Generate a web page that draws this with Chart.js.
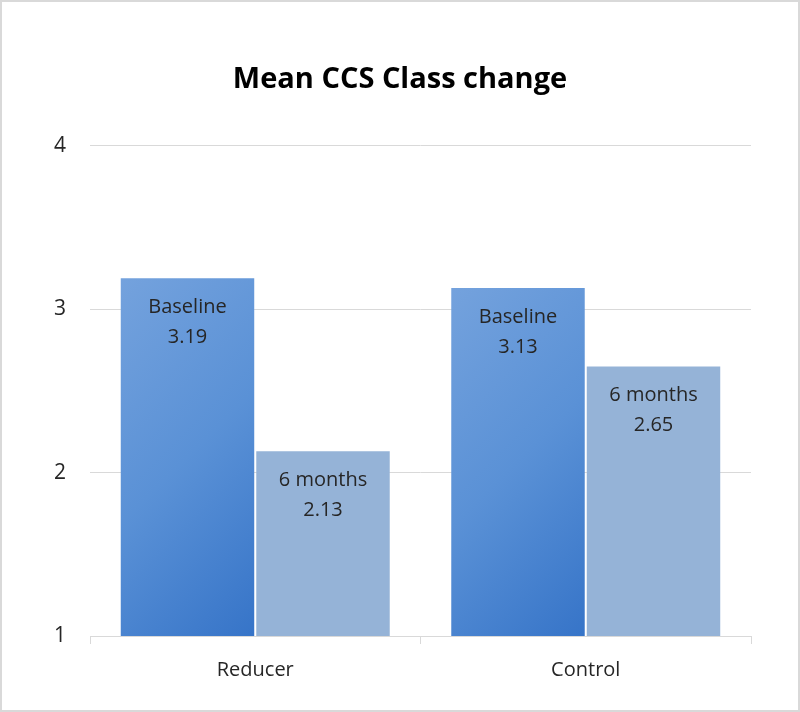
<!DOCTYPE html>
<html>
<head>
<meta charset="utf-8">
<script src="https://cdn.jsdelivr.net/npm/chart.js@4/dist/chart.umd.min.js"></script>
<style>
  html, body { margin: 0; padding: 0; background: #fff; }
  #wrap { width: 800px; height: 712px; }
</style>
</head>
<body>
<div id="wrap"><canvas id="myChart" width="800" height="712"></canvas></div>
<script>
const categories = ["Reducer", "Control"];
const seriesNames = ["Baseline", "6 months"];
const baselineValues = [3.19, 3.13];
const sixMonthValues = [2.13, 2.65];
const yTicks = [1, 2, 3, 4];

const FONT = "'Open Sans', 'Noto Sans', sans-serif";
const CAT_PCT = 0.82;
const BAR_PCT = 0.985;

// Excel-like 45 degree gradient, built per bar from the scales
function baselineFill(context) {
  const chart = context.chart;
  const xs = chart.scales.x, ys = chart.scales.y;
  if (!chart.chartArea || !xs || !ys || context.type !== 'data') return '#5a8fd4';
  const i = context.dataIndex;
  const catW = xs.width / categories.length;
  const groupW = catW * CAT_PCT;
  const left = xs.getPixelForValue(i) - groupW / 2;
  const w = groupW / 2;
  const top = ys.getPixelForValue(context.raw);
  const h = ys.bottom - top;
  const d = (w + h) / 2;
  const g = chart.ctx.createLinearGradient(left, top, left + d, top + d);
  g.addColorStop(0, '#74a2dd');
  g.addColorStop(0.5, '#5a91d6');
  g.addColorStop(1, '#3674c8');
  return g;
}

const frame = {
  id: 'frame',
  afterDraw(chart) {
    const ctx = chart.ctx;
    ctx.save();
    ctx.strokeStyle = '#d9d9d9';
    ctx.lineWidth = 2;
    ctx.strokeRect(1, 1, chart.width - 2, chart.height - 2);
    ctx.restore();
  }
};

const barLabels = {
  id: 'barLabels',
  afterDatasetsDraw(chart) {
    const ctx = chart.ctx;
    ctx.save();
    ctx.font = "20px " + FONT;
    ctx.fillStyle = '#262626';
    ctx.textAlign = 'center';
    ctx.textBaseline = 'middle';
    chart.data.datasets.forEach((ds, di) => {
      chart.getDatasetMeta(di).data.forEach((bar, i) => {
        ctx.fillText(ds.label, bar.x, bar.y + 29);
        ctx.fillText(ds.data[i].toFixed(2), bar.x, bar.y + 59);
      });
    });
    ctx.restore();
  }
};

const data = {
  labels: categories,
  datasets: [
    {
      label: seriesNames[0],
      data: baselineValues,
      backgroundColor: baselineFill,
      borderWidth: 0,
      categoryPercentage: CAT_PCT,
      barPercentage: BAR_PCT,
    },
    {
      label: seriesNames[1],
      data: sixMonthValues,
      backgroundColor: '#95b3d7',
      borderWidth: 0,
      categoryPercentage: CAT_PCT,
      barPercentage: BAR_PCT,
    },
  ],
};

const options = {
  responsive: false,
  animation: false,
  layout: { padding: { left: 49, right: 49, top: 0, bottom: 0 } },
  plugins: {
    legend: { display: false },
    tooltip: { enabled: false },
    title: {
      display: true,
      text: "Mean CCS Class change",
      color: '#000',
      font: { family: FONT, size: 29, weight: 'bold' },
      padding: { top: 62, bottom: 49 },
    },
  },
  scales: {
    x: {
      grid: { drawOnChartArea: false, drawTicks: true, tickLength: 8, color: '#d9d9d9' },
      border: { display: true, color: '#d9d9d9' },
      ticks: { color: '#262626', font: { family: FONT, size: 20 }, padding: 14 },
      afterFit(scale) { scale.height = 76; },
    },
    y: {
      min: 1,
      max: 4,
      afterBuildTicks(scale) { scale.ticks = yTicks.map(v => ({ value: v })); },
      grid: { color: '#d9d9d9', drawTicks: false },
      border: { display: false },
      ticks: { color: '#262626', font: { family: FONT, size: 21 }, padding: 24 },
      afterFit(scale) { scale.width = 41; },
    },
  },
};

const ctx = document.getElementById('myChart').getContext('2d');
const myChart = new Chart(ctx, {
  type: 'bar',
  data: data,
  options: options,
  plugins: [frame, barLabels],
});
</script>
</body>
</html>
